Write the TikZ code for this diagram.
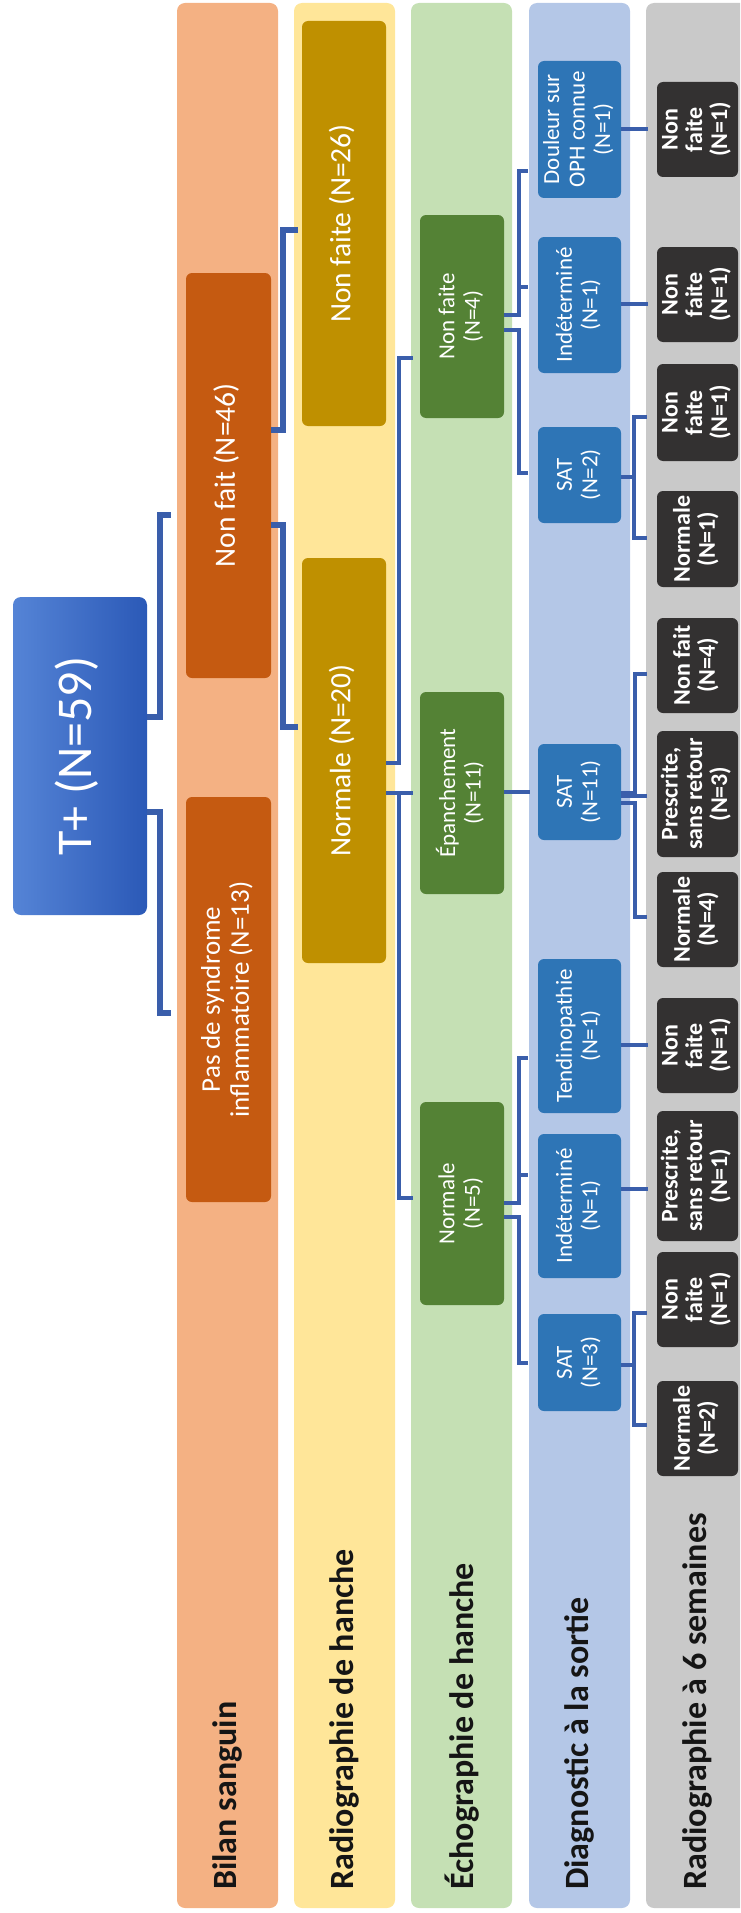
\documentclass[tikz,border=0pt]{standalone}
\usepackage{fontspec}
\setmainfont{Carlito}
\usepackage{graphicx}

\definecolor{cBandB}{HTML}{F4B183}
\definecolor{cBandR}{HTML}{FFE699}
\definecolor{cBandE}{HTML}{C5E0B4}
\definecolor{cBandD}{HTML}{B4C7E7}
\definecolor{cBandG}{HTML}{C9C9C9}
\definecolor{cBoxB}{HTML}{C55A11}
\definecolor{cBoxR}{HTML}{BF9000}
\definecolor{cBoxE}{HTML}{548235}
\definecolor{cBoxD}{HTML}{2E75B6}
\definecolor{cBoxG}{HTML}{333131}
\definecolor{cRootL}{HTML}{5584D6}
\definecolor{cRootR}{HTML}{2B59B7}
\definecolor{cLink}{HTML}{3A5EAB}
\definecolor{cLabel}{HTML}{151515}

% vertical (rotated) multi-line text: size, line skip, lines
\newcommand\vtext[3]{\rotatebox{90}{\fontsize{#1}{#2}\selectfont\begin{tabular}{@{}c@{}}#3\end{tabular}}}

\tikzset{
  band/.style={rounded corners=8pt, inner sep=0pt, outer sep=0pt,
    minimum width=101pt, minimum height=1905pt, anchor=north west},
  lbl/.style={rotate=90, anchor=west, inner sep=0pt, text=cLabel,
    font=\bfseries\fontsize{34}{40}\selectfont},
  box/.style={rounded corners=6pt, inner sep=0pt, outer sep=0pt,
    text=white, anchor=north west},
  colB/.style={box, fill=cBoxB, minimum width=85pt},
  colR/.style={box, fill=cBoxR, minimum width=84pt},
  colE/.style={box, fill=cBoxE, minimum width=84pt},
  colD/.style={box, fill=cBoxD, minimum width=83pt},
  colG/.style={box, fill=cBoxG, minimum width=81pt, font=\bfseries},
  linkA/.style={draw=cLink, line width=5.5pt},
  linkB/.style={draw=cLink, line width=4pt},
}

\begin{document}
\begin{tikzpicture}[x=1pt,y=1pt]
\useasboundingbox (0,0) rectangle (740,-1913);

% level bands
\node[band, fill=cBandB] (bandB) at (177,-3) {};
\node[band, fill=cBandR] (bandR) at (294,-3) {};
\node[band, fill=cBandE] (bandE) at (411,-3) {};
\node[band, fill=cBandD] (bandD) at (529,-3) {};
\begin{scope}
  \clip (0,0) rectangle (740,-1913);
  \node[band, fill=cBandG, minimum width=114pt] (bandG) at (646,-3) {};
\end{scope}

% band titles
\node[lbl] (lB) at (227.5,-1890) {Bilan sanguin};
\node[lbl] (lR) at (344.5,-1890) {Radiographie de hanche};
\node[lbl] (lE) at (462,-1890) {Échographie de hanche};
\node[lbl] (lD) at (579.5,-1890) {Diagnostic à la sortie};
\node[lbl] (lG) at (697,-1890) {Radiographie à 6 semaines};

% boxes
\node[box, rounded corners=8pt, left color=cRootL, right color=cRootR,
  minimum width=134pt, minimum height=318pt] (root) at (13,-597) {\vtext{50}{56}{T+ (N=59)}};

\node[colB, minimum height=405pt] (B1) at (186,-273) {\vtext{29.5}{32}{Non fait (N=46)}};
\node[colB, minimum height=405pt] (B2) at (186,-797) {\vtext{27}{29}{Pas de syndrome\\inflammatoire (N=13)}};

\node[colR, minimum height=405pt] (R1) at (302,-21) {\vtext{29.5}{32}{Non faite (N=26)}};
\node[colR, minimum height=405pt] (R2) at (302,-558) {\vtext{29.5}{32}{Normale (N=20)}};

\node[colE, minimum height=203pt] (E1) at (420,-215) {\vtext{23}{25.5}{Non faite\\(N=4)}};
\node[colE, minimum height=202pt] (E2) at (420,-692) {\vtext{23}{25.5}{Épanchement\\(N=11)}};
\node[colE, minimum height=203pt] (E3) at (420,-1102) {\vtext{23}{25.5}{Normale\\(N=5)}};

\node[colD, minimum height=137pt] (D1) at (538,-61) {\vtext{23}{25.5}{Douleur sur\\OPH connue\\(N=1)}};
\node[colD, minimum height=136pt] (D2) at (538,-237) {\vtext{23}{25.5}{Indéterminé\\(N=1)}};
\node[colD, minimum height=96pt] (D3) at (538,-427) {\vtext{23}{25.5}{SAT\\(N=2)}};
\node[colD, minimum height=96pt] (D4) at (538,-744) {\vtext{23}{25.5}{SAT\\(N=11)}};
\node[colD, minimum height=154pt] (D5) at (538,-959) {\vtext{23}{25.5}{Tendinopathie\\(N=1)}};
\node[colD, minimum height=144pt] (D6) at (538,-1134) {\vtext{23}{25.5}{Indéterminé\\(N=1)}};
\node[colD, minimum height=97pt] (D7) at (538,-1314) {\vtext{23}{25.5}{SAT\\(N=3)}};

\node[colG, minimum height=95pt] (G1) at (657,-82) {\vtext{24}{24.5}{Non\\faite\\(N=1)}};
\node[colG, minimum height=95pt] (G2) at (657,-247) {\vtext{24}{24.5}{Non\\faite\\(N=1)}};
\node[colG, minimum height=97pt] (G3) at (657,-364) {\vtext{24}{24.5}{Non\\faite\\(N=1)}};
\node[colG, minimum height=96pt] (G4) at (657,-491) {\vtext{24}{24.5}{Normale\\(N=1)}};
\node[colG, minimum height=95pt] (G5) at (657,-618) {\vtext{24}{24.5}{Non fait\\(N=4)}};
\node[colG, minimum height=126pt] (G6) at (657,-731) {\vtext{24}{24.5}{Prescrite,\\sans retour\\(N=3)}};
\node[colG, minimum height=95pt] (G7) at (657,-872) {\vtext{24}{24.5}{Normale\\(N=4)}};
\node[colG, minimum height=95pt] (G8) at (657,-998) {\vtext{24}{24.5}{Non\\faite\\(N=1)}};
\node[colG, minimum height=130pt] (G9) at (657,-1111) {\vtext{24}{24.5}{Prescrite,\\sans retour\\(N=1)}};
\node[colG, minimum height=95pt] (G10) at (657,-1252) {\vtext{24}{24.5}{Non\\faite\\(N=1)}};
\node[colG, minimum height=95pt] (G11) at (657,-1381) {\vtext{24}{24.5}{Normale\\(N=2)}};

% elbow connectors
\draw[linkA, shorten >=15pt] (root.east |- 0,-717) -| (160,-515) -- (B1.west |- 0,-515);
\draw[linkA, shorten >=15pt] (root.east |- 0,-812) -| (160,-1013) -- (B2.west |- 0,-1013);
\draw[linkA, shorten >=4pt] (B1.east |- 0,-430) -| (283,-230) -- (R1.west |- 0,-230);
\draw[linkA, shorten >=4pt] (B1.east |- 0,-525) -| (283,-727) -- (R2.west |- 0,-727);

\draw[linkB, shorten >=7pt] (R2.east |- 0,-763) -| (399,-358) -- (E1.west |- 0,-358);
\draw[linkB, shorten >=7pt] (R2.east |- 0,-793) -- (E2.west |- 0,-793);
\draw[linkB, shorten >=7pt] (R2.east |- 0,-793) -| (399,-1198) -- (E3.west |- 0,-1198);

\draw[linkB, shorten >=10pt] (E1.east |- 0,-315) -| (519,-171) -- (D1.west |- 0,-171);
\draw[linkB, shorten >=10pt] (E1.east |- 0,-315) -| (519,-287) -- (D2.west |- 0,-287);
\draw[linkB, shorten >=10pt] (E1.east |- 0,-330) -| (519,-473) -- (D3.west |- 0,-473);
\draw[linkB, shorten >=8pt] (E2.east |- 0,-792) -- (D4.west |- 0,-792);
\draw[linkB, shorten >=10pt] (E3.east |- 0,-1203) -| (519,-1058) -- (D5.west |- 0,-1058);
\draw[linkB, shorten >=10pt] (E3.east |- 0,-1203) -| (519,-1175) -- (D6.west |- 0,-1175);
\draw[linkB, shorten >=10pt] (E3.east |- 0,-1217) -| (519,-1363) -- (D7.west |- 0,-1363);

\draw[linkB, shorten >=9pt] (D1.east |- 0,-129) -- (G1.west |- 0,-129);
\draw[linkB, shorten >=9pt] (D2.east |- 0,-304) -- (G2.west |- 0,-304);
\draw[linkB, shorten >=10pt] (D3.east |- 0,-477) -| (634,-417) -- (G3.west |- 0,-417);
\draw[linkB, shorten >=10pt] (D3.east |- 0,-477) -| (634,-538) -- (G4.west |- 0,-538);
\draw[linkB, shorten >=10pt] (D4.east |- 0,-793) -| (635,-674) -- (G5.west |- 0,-674);
\draw[linkB, shorten >=10pt] (D4.east |- 0,-796) -- (G6.west |- 0,-796);
\draw[linkB, shorten >=10pt] (D4.east |- 0,-803) -| (635,-917) -- (G7.west |- 0,-917);
\draw[linkB, shorten >=9pt] (D5.east |- 0,-1045) -- (G8.west |- 0,-1045);
\draw[linkB, shorten >=9pt] (D6.east |- 0,-1189) -- (G9.west |- 0,-1189);
\draw[linkB, shorten >=10pt] (D7.east |- 0,-1365) -| (634,-1313) -- (G10.west |- 0,-1313);
\draw[linkB, shorten >=10pt] (D7.east |- 0,-1365) -| (634,-1425) -- (G11.west |- 0,-1425);
\end{tikzpicture}
\end{document}
